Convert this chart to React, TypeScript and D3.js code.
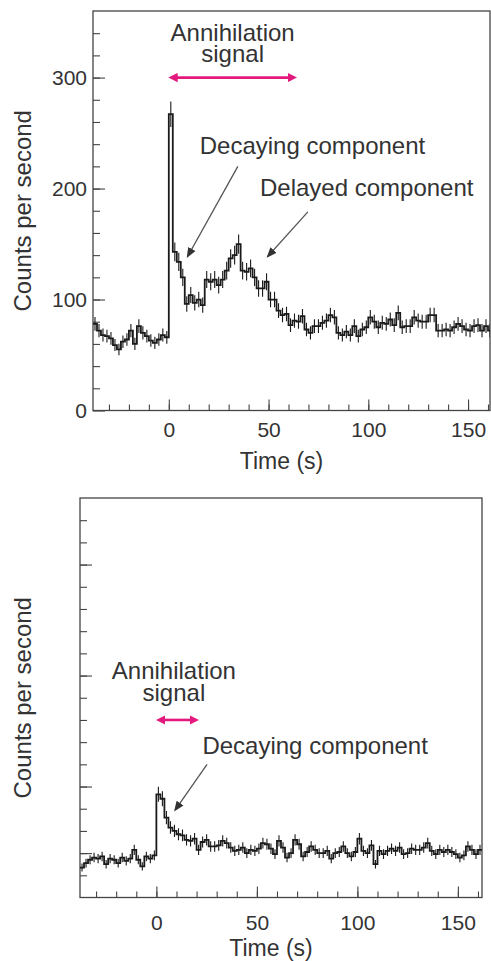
import React, { useEffect, useRef } from "react";
import * as d3 from "d3";

// counts per second in 2 s bins, first bin starts at -38 s
const binWidth = 2;
const firstBin = -38;

const topRates = [
  78, 72, 68, 67, 65, 59, 55, 62, 64, 72, 60, 76, 70, 67, 63, 61, 64, 68, 66,
  267, 143, 134, 120, 96, 104, 97, 100, 95, 118, 116, 118, 113, 118, 126,
  137, 140, 150, 126, 125, 128, 120, 110, 110, 116, 100, 100, 90, 86, 87, 77, 81, 80, 85, 73,
  70, 76, 76, 79, 81, 86, 84, 70, 68, 71, 68, 76, 67,
  73, 75, 84, 80, 75, 79, 78, 82, 77, 88, 75, 76, 76, 84, 81, 80, 80, 86, 86, 72,
  72, 73, 72, 75, 78, 76, 73, 72, 76, 77, 72, 76, 72,
];

const bottomRates = [
  27, 31, 34, 36, 35, 37, 30, 35, 34, 31, 36, 33, 35, 43, 34, 28, 37, 35, 38,
  93, 89, 72, 63, 60, 57, 56, 52, 51, 53, 43, 50, 52, 46, 46,
  47, 51, 49, 45, 42, 43, 45, 40, 43, 42, 44, 49, 48, 44, 39, 51, 45, 36, 40, 52,
  48, 37, 41, 46, 43, 40, 40, 42, 35, 40, 41, 46,
  40, 37, 41, 53, 42, 40, 47, 30, 42, 39, 42, 44, 42, 45, 39, 40, 44, 43, 43, 45,
  49, 42, 39, 43, 41, 43, 41, 39, 36, 38, 46, 43, 39, 43,
];

const xMajorTicks = [0, 50, 100, 150];
const topYLabels = [0, 100, 200, 300];
const bottomYMajor = [40, 100, 200, 300];

const pink = "#e3197d";
const ink = "#1a1a1a";
const textColor = "#333";
const font = "'Liberation Sans', Arial, Helvetica, sans-serif";

const panels = [
  {
    id: "top",
    rates: topRates,
    box: { left: 93, top: 11, right: 490, bottom: 410.5 },
    xDomain: [-38, 161],
    showYLabels: true,
    yMajor: topYLabels,
    xLabelPad: 12,
    titleY: 469,
    labels: [
      { text: "Annihilation", t: 32, v: 333, anchor: "middle" },
      { text: "signal", t: 32, v: 314, anchor: "middle" },
      { text: "Decaying component", t: 15.5, v: 231, anchor: "start" },
      { text: "Delayed component", t: 45.7, v: 193, anchor: "start" },
    ],
    span: { t0: 0, t1: 64, v: 300 },
    pointers: [
      { t0: 34.6, v0: 220, t1: 9.5, v1: 139 },
      { t0: 69.7, v0: 179, t1: 49.7, v1: 139 },
    ],
  },
  {
    id: "bottom",
    rates: bottomRates,
    box: { left: 80, top: 498, right: 482, bottom: 897.5 },
    xDomain: [-38, 162],
    showYLabels: false,
    yMajor: bottomYMajor,
    xLabelPad: 18,
    titleY: 956,
    labels: [
      { text: "Annihilation", t: 8.7, v: 197, anchor: "middle" },
      { text: "signal", t: 8.7, v: 177, anchor: "middle" },
      { text: "Decaying component", t: 22.9, v: 129, anchor: "start" },
    ],
    span: { t0: 0, t1: 21, v: 160 },
    pointers: [{ t0: 25.2, v0: 120, t1: 9.4, v1: 79 }],
  },
];

function drawPanel(svg, p) {
  const { left, top, right, bottom } = p.box;
  const x = d3.scaleLinear().domain(p.xDomain).range([left, right]);
  const y = d3.scaleLinear().domain([0, 360]).range([bottom, top]);
  const g = svg.append("g");

  g.append("clipPath")
    .attr("id", "clip-" + p.id)
    .append("rect")
    .attr("x", left)
    .attr("y", top)
    .attr("width", right - left)
    .attr("height", bottom - top);

  // minor ticks
  const minorY = d3.range(20, 360, 20);
  g.append("g")
    .attr("transform", `translate(${left},0)`)
    .call(d3.axisLeft(y).tickValues(minorY).tickSize(-7).tickFormat(() => ""))
    .call((a) => a.select(".domain").remove());
  g.append("g")
    .attr("transform", `translate(0,${bottom})`)
    .call(d3.axisBottom(x).tickValues(d3.range(-30, 161, 10)).tickSize(-6).tickFormat(() => ""))
    .call((a) => a.select(".domain").remove());

  // major ticks + labels
  const yAxis = g
    .append("g")
    .attr("transform", `translate(${left},0)`)
    .call(
      d3
        .axisLeft(y)
        .tickValues(p.yMajor)
        .tickSize(-12)
        .tickPadding(6)
        .tickFormat((d) => (p.showYLabels ? String(d) : ""))
    );
  yAxis.select(".domain").remove();
  yAxis.selectAll("text").attr("font-size", 21).attr("font-family", font).attr("fill", textColor);

  const xAxis = g
    .append("g")
    .attr("transform", `translate(0,${bottom})`)
    .call(d3.axisBottom(x).tickValues(xMajorTicks).tickSize(-11).tickPadding(p.xLabelPad));
  xAxis.select(".domain").remove();
  xAxis.selectAll("text").attr("font-size", 21).attr("font-family", font).attr("fill", textColor);

  svg.selectAll(".tick line").attr("stroke", "#444").attr("stroke-width", 1.1);

  // frame
  g.append("rect")
    .attr("x", left)
    .attr("y", top)
    .attr("width", right - left)
    .attr("height", bottom - top)
    .attr("fill", "none")
    .attr("stroke", "#444")
    .attr("stroke-width", 1.3);

  // histogram
  const bins = p.rates.map((v, i) => ({ t: firstBin + i * binWidth, v }));
  const last = bins[bins.length - 1];
  const stepPts = [...bins, { t: last.t + binWidth, v: last.v }];
  const plot = g.append("g").attr("clip-path", `url(#clip-${p.id})`);

  plot
    .selectAll("line.err")
    .data(bins)
    .enter()
    .append("line")
    .attr("class", "err")
    .attr("x1", (d) => x(d.t + binWidth / 2))
    .attr("x2", (d) => x(d.t + binWidth / 2))
    .attr("y1", (d) => y(d.v + Math.sqrt(d.v * binWidth) / binWidth))
    .attr("y2", (d) => y(d.v - Math.sqrt(d.v * binWidth) / binWidth))
    .attr("stroke", ink)
    .attr("stroke-width", 1.1);

  const line = d3
    .line()
    .x((d) => x(d.t))
    .y((d) => y(d.v))
    .curve(d3.curveStepAfter);
  plot
    .append("path")
    .datum(stepPts)
    .attr("d", line)
    .attr("fill", "none")
    .attr("stroke", ink)
    .attr("stroke-width", 1.8);

  // annotations
  g.selectAll("text.note")
    .data(p.labels)
    .enter()
    .append("text")
    .attr("class", "note")
    .attr("x", (d) => x(d.t))
    .attr("y", (d) => y(d.v))
    .attr("text-anchor", (d) => d.anchor)
    .attr("font-size", 24)
    .attr("font-family", font)
    .attr("fill", textColor)
    .text((d) => d.text);

  g.append("line")
    .attr("x1", x(p.span.t0) + 7)
    .attr("x2", x(p.span.t1) - 7)
    .attr("y1", y(p.span.v))
    .attr("y2", y(p.span.v))
    .attr("stroke", pink)
    .attr("stroke-width", 2.6)
    .attr("marker-start", "url(#pinkHeadStart)")
    .attr("marker-end", "url(#pinkHead)");

  g.selectAll("line.ptr")
    .data(p.pointers)
    .enter()
    .append("line")
    .attr("class", "ptr")
    .attr("x1", (d) => x(d.t0))
    .attr("y1", (d) => y(d.v0))
    .attr("x2", (d) => x(d.t1))
    .attr("y2", (d) => y(d.v1))
    .attr("stroke", "#555")
    .attr("stroke-width", 1.3)
    .attr("marker-end", "url(#grayHead)");

  // axis titles
  svg
    .append("text")
    .attr("x", (left + right) / 2 - 10)
    .attr("y", p.titleY)
    .attr("text-anchor", "middle")
    .attr("font-size", 23)
    .attr("font-family", font)
    .attr("fill", textColor)
    .text("Time (s)");

  svg
    .append("text")
    .attr("transform", `translate(31,${(top + bottom) / 2}) rotate(-90)`)
    .attr("text-anchor", "middle")
    .attr("font-size", 24)
    .attr("font-family", font)
    .attr("fill", textColor)
    .text("Counts per second");
}

const App = () => {
  const ref = useRef(null);

  useEffect(() => {
    const svg = d3.select(ref.current);
    svg.selectAll("g, text").remove();
    panels.forEach((p) => drawPanel(svg, p));
  }, []);

  return (
    <svg
      ref={ref}
      width={491}
      height={961}
      style={{ position: "absolute", left: 0, top: 0, background: "#fff" }}
    >
      <defs>
        <marker id="pinkHead" viewBox="0 0 10 10" refX="2" refY="5" markerWidth="3.6" markerHeight="3.6" markerUnits="strokeWidth" orient="auto">
          <path d="M0,0 L10,5 L0,10 z" fill={pink} />
        </marker>
        <marker id="pinkHeadStart" viewBox="0 0 10 10" refX="8" refY="5" markerWidth="3.6" markerHeight="3.6" markerUnits="strokeWidth" orient="auto">
          <path d="M10,0 L0,5 L10,10 z" fill={pink} />
        </marker>
        <marker id="grayHead" viewBox="0 0 10 10" refX="8" refY="5" markerWidth="8" markerHeight="8" markerUnits="strokeWidth" orient="auto">
          <path d="M0,1 L10,5 L0,9 z" fill="#333" />
        </marker>
      </defs>
    </svg>
  );
};

export default App;
